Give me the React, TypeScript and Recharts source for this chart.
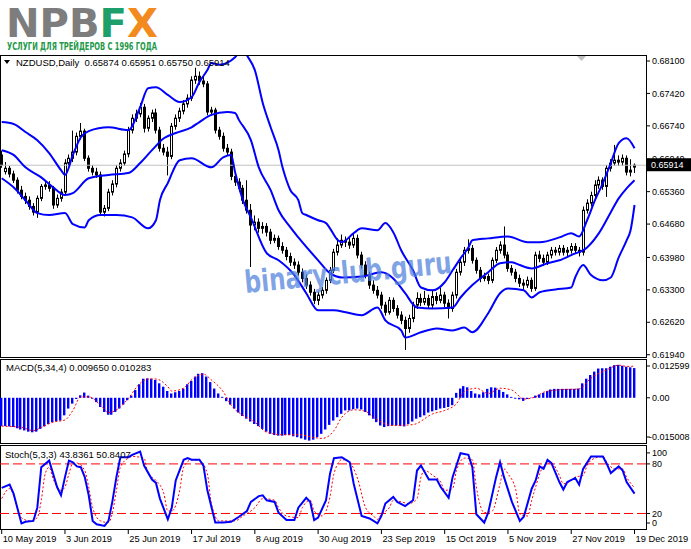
import React from 'react';
import { ComposedChart, Bar, Line, XAxis, YAxis, ReferenceLine } from 'recharts';

const FONT = '"Liberation Sans", Arial, sans-serif';
const X_DOMAIN: [number, number] = [-0.43, 162.9];

// date axis (bar index -> label)
const dateTicks = [0, 16, 32, 48, 64, 80, 96, 112, 128, 144, 160];
const dateLabels = ['10 May 2019', '3 Jun 2019', '25 Jun 2019', '17 Jul 2019', '8 Aug 2019', '30 Aug 2019',
  '23 Sep 2019', '15 Oct 2019', '5 Nov 2019', '27 Nov 2019', '19 Dec 2019'];

const priceTicks = [0.6194, 0.6262, 0.633, 0.6398, 0.6468, 0.6536, 0.6604, 0.6674, 0.6742, 0.681];
const macdTicks = [-0.015008, 0, 0.012599];
const macdTickLabels = ['-0.015008', '0.00', '0.012599'];
const stochTicks = [0, 20, 80, 100];
const lastPrice = 0.65914;

// daily candles: [open, high, low, close]
const candles: number[][] = [
  [0.6613, 0.6622, 0.6586, 0.6592], [0.6578, 0.6598, 0.6572, 0.6585], [0.6585, 0.6590, 0.6566, 0.6573], [0.6573, 0.6580, 0.6554, 0.6560],
  [0.6560, 0.6566, 0.6532, 0.6539], [0.6539, 0.6548, 0.6520, 0.6526], [0.6526, 0.6534, 0.6510, 0.6518], [0.6518, 0.6526, 0.6498, 0.6505],
  [0.6505, 0.6512, 0.6486, 0.6493], [0.6493, 0.6528, 0.6481, 0.6522], [0.6522, 0.6552, 0.6516, 0.6547], [0.6547, 0.6556, 0.6540, 0.6550],
  [0.6550, 0.6558, 0.6536, 0.6543], [0.6543, 0.6548, 0.6500, 0.6508], [0.6508, 0.6530, 0.6502, 0.6522], [0.6522, 0.6542, 0.6515, 0.6535],
  [0.6535, 0.6604, 0.6530, 0.6596], [0.6596, 0.6614, 0.6590, 0.6606], [0.6606, 0.6664, 0.6598, 0.6619], [0.6619, 0.6660, 0.6612, 0.6652],
  [0.6652, 0.6680, 0.6645, 0.6663], [0.6663, 0.6668, 0.6600, 0.6606], [0.6606, 0.6612, 0.6578, 0.6585], [0.6585, 0.6592, 0.6570, 0.6577],
  [0.6577, 0.6586, 0.6565, 0.6571], [0.6571, 0.6578, 0.6486, 0.6493], [0.6493, 0.6508, 0.6484, 0.6501], [0.6501, 0.6542, 0.6495, 0.6535],
  [0.6535, 0.6560, 0.6528, 0.6552], [0.6552, 0.6592, 0.6545, 0.6585], [0.6585, 0.6604, 0.6578, 0.6596], [0.6596, 0.6622, 0.6590, 0.6615],
  [0.6615, 0.6672, 0.6608, 0.6665], [0.6665, 0.6698, 0.6658, 0.6690], [0.6690, 0.6708, 0.6682, 0.6699], [0.6699, 0.6722, 0.6692, 0.6713],
  [0.6713, 0.6720, 0.6660, 0.6669], [0.6669, 0.6696, 0.6662, 0.6690], [0.6690, 0.6708, 0.6682, 0.6701], [0.6701, 0.6710, 0.6658, 0.6665],
  [0.6665, 0.6672, 0.6620, 0.6627], [0.6627, 0.6636, 0.6612, 0.6619], [0.6619, 0.6630, 0.6570, 0.6610], [0.6610, 0.6680, 0.6604, 0.6673],
  [0.6673, 0.6698, 0.6666, 0.6690], [0.6690, 0.6712, 0.6682, 0.6705], [0.6705, 0.6728, 0.6698, 0.6720], [0.6720, 0.6740, 0.6712, 0.6732],
  [0.6732, 0.6778, 0.6726, 0.6770], [0.6770, 0.6796, 0.6762, 0.6778], [0.6778, 0.6788, 0.6760, 0.6768], [0.6768, 0.6778, 0.6755, 0.6762],
  [0.6762, 0.6768, 0.6696, 0.6703], [0.6703, 0.6714, 0.6696, 0.6707], [0.6707, 0.6712, 0.6658, 0.6665], [0.6665, 0.6672, 0.6645, 0.6652],
  [0.6652, 0.6660, 0.6620, 0.6627], [0.6627, 0.6636, 0.6612, 0.6619], [0.6619, 0.6626, 0.6560, 0.6568], [0.6568, 0.6575, 0.6548, 0.6556],
  [0.6556, 0.6564, 0.6536, 0.6543], [0.6543, 0.6550, 0.6510, 0.6518], [0.6518, 0.6560, 0.6490, 0.6497], [0.6497, 0.6510, 0.6378, 0.6466],
  [0.6466, 0.6486, 0.6455, 0.6472], [0.6472, 0.6480, 0.6450, 0.6459], [0.6459, 0.6472, 0.6448, 0.6463], [0.6463, 0.6470, 0.6442, 0.6451],
  [0.6451, 0.6458, 0.6426, 0.6434], [0.6434, 0.6446, 0.6428, 0.6438], [0.6438, 0.6444, 0.6414, 0.6421], [0.6421, 0.6430, 0.6406, 0.6413],
  [0.6413, 0.6420, 0.6392, 0.6400], [0.6400, 0.6408, 0.6380, 0.6388], [0.6388, 0.6396, 0.6374, 0.6382], [0.6382, 0.6390, 0.6360, 0.6367],
  [0.6367, 0.6375, 0.6346, 0.6354], [0.6354, 0.6362, 0.6332, 0.6340], [0.6340, 0.6348, 0.6318, 0.6325], [0.6325, 0.6332, 0.6300, 0.6308],
  [0.6308, 0.6326, 0.6298, 0.6319], [0.6319, 0.6336, 0.6312, 0.6329], [0.6329, 0.6356, 0.6322, 0.6350], [0.6350, 0.6378, 0.6344, 0.6371],
  [0.6371, 0.6416, 0.6365, 0.6409], [0.6409, 0.6438, 0.6402, 0.6424], [0.6424, 0.6446, 0.6418, 0.6434], [0.6434, 0.6442, 0.6420, 0.6430],
  [0.6430, 0.6440, 0.6416, 0.6424], [0.6424, 0.6448, 0.6418, 0.6438], [0.6438, 0.6446, 0.6396, 0.6403], [0.6403, 0.6410, 0.6375, 0.6382],
  [0.6382, 0.6390, 0.6354, 0.6361], [0.6361, 0.6368, 0.6332, 0.6340], [0.6340, 0.6350, 0.6322, 0.6329], [0.6329, 0.6338, 0.6312, 0.6319],
  [0.6319, 0.6326, 0.6290, 0.6298], [0.6298, 0.6305, 0.6276, 0.6283], [0.6283, 0.6315, 0.6278, 0.6308], [0.6308, 0.6314, 0.6284, 0.6291],
  [0.6291, 0.6298, 0.6270, 0.6277], [0.6277, 0.6285, 0.6258, 0.6266], [0.6266, 0.6274, 0.6204, 0.6249], [0.6249, 0.6278, 0.6240, 0.6270],
  [0.6270, 0.6305, 0.6262, 0.6298], [0.6298, 0.6325, 0.6290, 0.6312], [0.6312, 0.6322, 0.6296, 0.6304], [0.6304, 0.6328, 0.6298, 0.6312],
  [0.6312, 0.6320, 0.6290, 0.6298], [0.6298, 0.6330, 0.6292, 0.6316], [0.6316, 0.6325, 0.6300, 0.6308], [0.6308, 0.6334, 0.6302, 0.6319],
  [0.6319, 0.6326, 0.6294, 0.6302], [0.6302, 0.6310, 0.6270, 0.6291], [0.6291, 0.6326, 0.6284, 0.6319], [0.6319, 0.6374, 0.6312, 0.6367],
  [0.6367, 0.6396, 0.6360, 0.6388], [0.6388, 0.6420, 0.6380, 0.6413], [0.6413, 0.6436, 0.6406, 0.6417], [0.6417, 0.6424, 0.6385, 0.6392],
  [0.6392, 0.6398, 0.6364, 0.6371], [0.6371, 0.6378, 0.6346, 0.6354], [0.6354, 0.6366, 0.6348, 0.6358], [0.6358, 0.6364, 0.6342, 0.6350],
  [0.6350, 0.6398, 0.6344, 0.6392], [0.6392, 0.6420, 0.6386, 0.6413], [0.6413, 0.6432, 0.6406, 0.6424], [0.6424, 0.6463, 0.6396, 0.6403],
  [0.6403, 0.6410, 0.6368, 0.6375], [0.6375, 0.6382, 0.6360, 0.6367], [0.6367, 0.6374, 0.6346, 0.6354], [0.6354, 0.6362, 0.6336, 0.6344],
  [0.6344, 0.6352, 0.6330, 0.6340], [0.6340, 0.6358, 0.6334, 0.6350], [0.6350, 0.6356, 0.6326, 0.6333], [0.6333, 0.6410, 0.6328, 0.6403],
  [0.6403, 0.6412, 0.6388, 0.6396], [0.6396, 0.6404, 0.6380, 0.6388], [0.6388, 0.6410, 0.6382, 0.6403], [0.6403, 0.6420, 0.6396, 0.6413],
  [0.6413, 0.6420, 0.6402, 0.6409], [0.6409, 0.6424, 0.6402, 0.6417], [0.6417, 0.6424, 0.6402, 0.6409], [0.6409, 0.6420, 0.6400, 0.6413],
  [0.6413, 0.6428, 0.6406, 0.6421], [0.6421, 0.6428, 0.6406, 0.6413], [0.6413, 0.6420, 0.6400, 0.6409], [0.6409, 0.6505, 0.6402, 0.6497],
  [0.6497, 0.6520, 0.6490, 0.6512], [0.6512, 0.6536, 0.6505, 0.6528], [0.6528, 0.6560, 0.6520, 0.6550], [0.6550, 0.6568, 0.6542, 0.6560],
  [0.6560, 0.6566, 0.6540, 0.6547], [0.6547, 0.6592, 0.6525, 0.6585], [0.6585, 0.6604, 0.6578, 0.6596], [0.6596, 0.6634, 0.6590, 0.6602],
  [0.6602, 0.6612, 0.6590, 0.6598], [0.6598, 0.6614, 0.6590, 0.6606], [0.6606, 0.6612, 0.6570, 0.6577], [0.6577, 0.6604, 0.6568, 0.6581],
  [0.65874, 0.65951, 0.65750, 0.65914],
];

// Bollinger bands, read at [bar index, price]
const bbUpper: number[][] = [
  [0, 0.6682], [3, 0.6678], [6, 0.6661], [9, 0.6644], [12, 0.6617], [15, 0.6581], [16, 0.6571], [18, 0.6613], [20, 0.6650],
  [22, 0.6663], [27, 0.6671], [32, 0.6665], [35, 0.6713], [37, 0.6753], [39, 0.6755], [42, 0.6739], [45, 0.6724], [48, 0.6734],
  [50, 0.6766], [52, 0.6791], [53, 0.6806], [55, 0.6802], [57, 0.6806], [59, 0.6818], [61, 0.6837], [62, 0.6822], [64, 0.6791],
  [66, 0.6722], [68, 0.6671], [70, 0.6623], [71, 0.6587], [72, 0.6560], [73, 0.6539], [75, 0.6518], [76, 0.6491], [77, 0.6487],
  [80, 0.6476], [82, 0.6470], [83, 0.6459], [85, 0.6434], [86, 0.6430], [89, 0.6449], [91, 0.6459], [95, 0.6455], [97, 0.6470],
  [99, 0.6451], [101, 0.6413], [104, 0.6371], [106, 0.6335], [109, 0.6329], [112, 0.6346], [114, 0.6371], [116, 0.6396],
  [118, 0.6419], [119, 0.6434], [123, 0.6438], [128, 0.6442], [133, 0.6430], [136, 0.6430], [141, 0.6440], [144, 0.6449],
  [146, 0.6442], [148, 0.6476], [150, 0.6518], [152, 0.6554], [154, 0.6596], [156, 0.6638], [158, 0.6648], [160, 0.6627],
];
const bbMiddle: number[][] = [
  [0, 0.6623], [3, 0.6613], [6, 0.6587], [10, 0.6566], [13, 0.6545], [16, 0.6529], [18, 0.6533], [22, 0.6564], [27, 0.6571],
  [32, 0.6575], [35, 0.6596], [38, 0.6623], [41, 0.6648], [44, 0.6659], [48, 0.6671], [50, 0.6682], [53, 0.6697], [57, 0.6703],
  [59, 0.6701], [60, 0.6686], [63, 0.6644], [65, 0.6587], [68, 0.6539], [70, 0.6497], [73, 0.6461], [75, 0.6440], [80, 0.6392],
  [83, 0.6365], [86, 0.6356], [91, 0.6358], [96, 0.6367], [99, 0.6354], [102, 0.6323], [105, 0.6293], [109, 0.6291], [114, 0.6293],
  [116, 0.6314], [119, 0.6340], [123, 0.6367], [126, 0.6386], [129, 0.6388], [131, 0.6382], [134, 0.6375], [138, 0.6386],
  [141, 0.6392], [144, 0.6403], [148, 0.6419], [151, 0.6449], [154, 0.6493], [156, 0.6522], [158, 0.6543], [160, 0.6560],
];
const bbLower: number[][] = [
  [0, 0.6564], [3, 0.6545], [6, 0.6518], [9, 0.6491], [12, 0.6487], [16, 0.6491], [18, 0.6468], [21, 0.6461], [22, 0.6476],
  [25, 0.6487], [29, 0.6487], [33, 0.6482], [37, 0.6459], [39, 0.6476], [40, 0.6518], [42, 0.6554], [45, 0.6602], [48, 0.6606],
  [53, 0.6587], [56, 0.6608], [58, 0.6613], [59, 0.6577], [61, 0.6518], [63, 0.6482], [67, 0.6407], [70, 0.6392], [74, 0.6361],
  [77, 0.6323], [80, 0.6287], [84, 0.6287], [87, 0.6283], [91, 0.6277], [95, 0.6293], [97, 0.6266], [101, 0.6245], [102, 0.6230],
  [106, 0.6241], [110, 0.6249], [114, 0.6245], [117, 0.6251], [119, 0.6241], [123, 0.6281], [126, 0.6323], [128, 0.6333],
  [132, 0.6329], [134, 0.6314], [136, 0.6325], [140, 0.6331], [144, 0.6335], [145, 0.6356], [147, 0.6382], [149, 0.6361],
  [152, 0.6350], [154, 0.6356], [156, 0.6398], [158, 0.6434], [159, 0.6455], [160, 0.6508],
];

// MACD(5,34,4) histogram, one value per bar
const macdHist = [
  -0.0092, -0.0092, -0.0093, -0.0095, -0.0099, -0.0103, -0.0106, -0.0110, -0.0112, -0.0110,
  -0.0101, -0.0093, -0.0085, -0.0079, -0.0076, -0.0074, -0.0057, -0.0035, -0.0019, -0.0004,
  0.0008, 0.0017, 0.0007, -0.0003, -0.0014, -0.0030, -0.0046, -0.0055, -0.0055, -0.0046,
  -0.0035, -0.0022, -0.0008, 0.0007, 0.0025, 0.0044, 0.0062, 0.0063, 0.0062, 0.0058,
  0.0047, 0.0036, 0.0022, 0.0014, 0.0018, 0.0022, 0.0030, 0.0044, 0.0055, 0.0069,
  0.0078, 0.0080, 0.0069, 0.0051, 0.0030, 0.0014, 0.0003, -0.0011, -0.0022, -0.0035,
  -0.0048, -0.0059, -0.0068, -0.0077, -0.0085, -0.0092, -0.0101, -0.0110, -0.0117, -0.0121,
  -0.0123, -0.0123, -0.0121, -0.0121, -0.0125, -0.0128, -0.0132, -0.0136, -0.0139, -0.0136,
  -0.0128, -0.0117, -0.0103, -0.0088, -0.0074, -0.0063, -0.0052, -0.0041, -0.0041, -0.0037,
  -0.0035, -0.0038, -0.0046, -0.0057, -0.0068, -0.0079, -0.0090, -0.0095, -0.0092, -0.0090,
  -0.0090, -0.0092, -0.0093, -0.0085, -0.0077, -0.0068, -0.0063, -0.0057, -0.0048, -0.0044,
  -0.0040, -0.0035, -0.0033, -0.0030, -0.0024, 0.0016, 0.0030, 0.0038, 0.0034, 0.0022,
  0.0014, 0.0011, 0.0018, 0.0029, 0.0034, 0.0033, 0.0026, 0.0019, 0.0011, 0.0003,
  -0.0003, -0.0005, -0.0010, -0.0004, 0.0001, 0.0007, 0.0011, 0.0016, 0.0022, 0.0027,
  0.0029, 0.0029, 0.0029, 0.0029, 0.0029, 0.0029, 0.0030, 0.0047, 0.0062, 0.0074,
  0.0085, 0.0095, 0.0096, 0.0096, 0.0101, 0.0106, 0.0107, 0.0104, 0.0101, 0.0099,
  0.00965,
];
const macdSignal: number[][] = [
  [0, -0.0092], [5, -0.0096], [8, -0.0107], [10, -0.0096], [13, -0.0079], [16, -0.0072], [18, -0.0041], [20, 0.0003],
  [22, 0.0003], [25, -0.0024], [27, -0.0048], [30, -0.0030], [32, -0.0002], [35, 0.0047], [37, 0.0061], [39, 0.0061],
  [42, 0.0036], [43, 0.0022], [46, 0.0031], [48, 0.0058], [51, 0.0077], [53, 0.0058], [56, 0.0020], [58, -0.0024],
  [61, -0.0057], [64, -0.0079], [67, -0.0112], [71, -0.0120], [75, -0.0120], [79, -0.0129], [81, -0.0132], [84, -0.0107],
  [86, -0.0063], [89, -0.0039], [92, -0.0044], [94, -0.0063], [97, -0.0085], [99, -0.0090], [104, -0.0087], [109, -0.0052],
  [112, -0.0041], [115, -0.0019], [117, 0.0020], [120, 0.0031], [123, 0.0014], [126, 0.0031], [129, 0.0025], [132, -0.0004],
  [135, 0.0003], [137, 0.0018], [141, 0.0026], [146, 0.0029], [149, 0.0064], [153, 0.0091], [156, 0.0106], [158, 0.0102],
  [160, 0.010283],
];

// Stochastic(5,3,3) main and signal, read at [bar index, value]
const stochMain: number[][] = [
  [0, 51], [2, 55], [3, 44], [5, 8], [6, 10], [8, 11], [9, 27], [10, 76], [12, 84], [13, 68], [14, 52], [15, 42], [16, 64],
  [17, 84], [18, 82], [19, 77], [20, 76], [21, 64], [22, 42], [23, 11], [24, 7], [26, 5], [27, 11], [28, 35], [29, 64], [30, 88],
  [32, 88], [33, 91], [35, 95], [36, 78], [38, 61], [39, 57], [40, 38], [42, 13], [43, 27], [44, 60], [46, 85], [47, 87], [48, 85],
  [50, 85], [51, 78], [52, 48], [54, 9], [56, 9], [58, 10], [60, 16], [62, 23], [63, 34], [65, 41], [66, 42], [67, 36], [69, 34],
  [70, 21], [72, 12], [74, 12], [75, 27], [77, 39], [78, 34], [79, 12], [80, 15], [82, 36], [83, 68], [84, 87], [86, 88], [88, 82],
  [89, 56], [91, 17], [93, 14], [95, 8], [96, 17], [97, 32], [99, 40], [100, 34], [102, 29], [104, 36], [105, 72], [106, 78],
  [108, 61], [110, 61], [111, 52], [113, 39], [114, 64], [116, 93], [118, 91], [119, 76], [120, 19], [122, 9], [123, 21], [125, 64],
  [126, 82], [127, 64], [129, 34], [131, 11], [132, 16], [134, 50], [135, 60], [136, 77], [137, 74], [138, 85], [139, 81], [141, 58],
  [142, 49], [143, 58], [145, 63], [146, 55], [147, 74], [149, 89], [151, 89], [152, 89], [153, 80], [154, 69], [156, 77], [157, 72],
  [158, 58], [160, 44],
];
const stochSignal: number[][] = [
  [0, 38], [2, 50], [5, 15], [7, 11], [9, 15], [10, 36], [11, 68], [12, 76], [13, 62], [15, 48], [16, 52], [17, 68], [18, 81],
  [19, 81], [21, 72], [22, 52], [23, 27], [25, 11], [27, 9], [28, 21], [29, 48], [30, 76], [32, 87], [33, 89], [36, 87], [37, 68],
  [39, 60], [41, 44], [42, 23], [43, 23], [45, 48], [46, 76], [48, 85], [50, 84], [52, 68], [53, 32], [55, 11], [59, 11], [61, 17],
  [64, 27], [66, 38], [69, 36], [70, 27], [72, 17], [75, 15], [76, 27], [78, 36], [79, 23], [81, 17], [83, 40], [84, 68], [86, 85],
  [87, 85], [88, 82], [90, 62], [92, 27], [94, 17], [95, 13], [96, 19], [98, 27], [99, 36], [101, 34], [103, 32], [105, 38],
  [106, 64], [107, 72], [109, 66], [111, 58], [112, 48], [114, 50], [115, 72], [117, 87], [119, 85], [120, 52], [122, 21],
  [124, 23], [126, 56], [127, 74], [128, 68], [130, 48], [131, 19], [133, 17], [134, 36], [135, 52], [136, 68], [138, 81],
  [139, 81], [141, 66], [142, 56], [144, 60], [145, 64], [147, 66], [148, 78], [150, 87], [152, 89], [153, 82], [155, 74],
  [157, 74], [158, 64], [160, 51],
];

const pointAt = (pts: number[][], i: number) => {
  const p = pts.find((q) => q[0] === i);
  return p ? p[1] : null;
};

const mainData = candles.map(([o, h, l, c], i) => ({
  i, o, h, l, c, hl: [l, h],
  up: pointAt(bbUpper, i), mid: pointAt(bbMiddle, i), lo: pointAt(bbLower, i),
}));
const macdData = macdHist.map((v, i) => ({ i, v, sig: pointAt(macdSignal, i) }));
const stochData = candles.map((_, i) => ({ i, k: pointAt(stochMain, i), d: pointAt(stochSignal, i) }));

const Candle = (props: any) => {
  const { x, y, width, height, payload } = props;
  if (!payload || height == null) return null;
  const { o, h, l, c } = payload;
  const cx = Math.round(x + width / 2) + 0.5;
  const at = (v: number) => y + ((h - v) / (h - l)) * height;
  const top = Math.min(at(o), at(c));
  const bot = Math.max(at(o), at(c));
  const bh = Math.max(bot - top, 1);
  return (
    <g>
      <line x1={cx} x2={cx} y1={y} y2={y + height} stroke="#000" strokeWidth={1} />
      {c >= o ? (
        <rect x={cx - 1} y={top} width={2} height={bh} fill="#fff" stroke="#000" strokeWidth={1} />
      ) : (
        <rect x={cx - 1.5} y={top - 0.5} width={3} height={bh + 1} fill="#000" />
      )}
    </g>
  );
};

const MacdBar = (props: any) => {
  const { x, y, width, height } = props;
  if (height == null) return null;
  const top = Math.min(y, y + height);
  const h = Math.abs(height);
  const left = Math.round(x + width / 2 - 1.5);
  return (
    <g>
      <rect x={left} y={top} width={2} height={h} fill="#0000ff" />
      <rect x={left + 2} y={top} width={1} height={h} fill="#9a9aff" />
    </g>
  );
};

const makeYTick = (label: (v: number) => string, shift: (v: number) => number, nudge: (v: number) => number = () => 0) =>
  (props: any) => {
    const { x, y, payload } = props;
    const yy = y + shift(payload.value);
    return (
      <g>
        <line x1={x - 5} x2={x - 2} y1={yy} y2={yy} stroke="#000" />
        <text x={x + nudge(payload.value)} y={yy} dy="0.35em" textAnchor="start" fontSize={9} fontFamily={FONT} fill="#000">
          {label(payload.value)}
        </text>
      </g>
    );
  };

const priceTick = makeYTick((v) => v.toFixed(5), () => 0);
const macdTick = makeYTick((v) => macdTickLabels[macdTicks.indexOf(v)], (v) => (v > 0.01 ? 7 : v < -0.01 ? -7 : 0),
  (v) => (v < 0 ? -3 : 0));
const stochTick = makeYTick((v) => String(v), (v) => (v === 100 ? 5.5 : v === 0 ? -7 : 0));

const DateTick = (props: any) => {
  const { x, y, payload } = props;
  return (
    <text x={x + 1} y={y} dy="0.71em" textAnchor="start" fontSize={9.3} fontFamily={FONT} fill="#000">
      {dateLabels[dateTicks.indexOf(payload.value)]}
    </text>
  );
};

const PriceTag = (props: any) => {
  const vb = props.viewBox || {};
  const x = vb.x + vb.width + 1;
  const y = vb.y;
  return (
    <g>
      <rect x={x} y={y - 7} width={44} height={13} fill="#000" />
      <text x={x + 4} y={y} dy="0.35em" fontSize={9} fontFamily={FONT} fill="#fff">{lastPrice.toFixed(5)}</text>
    </g>
  );
};

const paneBox = (top: number, height: number): React.CSSProperties => ({
  position: 'absolute', left: 0, top, width: 647, height, border: '1px solid #000', boxSizing: 'border-box',
});

const last = candles[candles.length - 1];

export default function App() {
  return (
    <div style={{ position: 'absolute', left: 0, top: 0, width: 691, height: 549, background: '#fff', overflow: 'hidden' }}>
      <div style={paneBox(55, 303)} />
      <div style={paneBox(359, 85)} />
      <div style={paneBox(445, 85)} />

      {/* price pane */}
      <div style={{ position: 'absolute', left: 0, top: 0 }}>
        <ComposedChart width={691} height={362} data={mainData} margin={{ top: 56, right: 0, bottom: 5, left: 0 }}>
          <XAxis dataKey="i" type="number" domain={X_DOMAIN} allowDataOverflow hide />
          <YAxis orientation="right" width={45} domain={[0.61892, 0.68205]} allowDataOverflow ticks={priceTicks}
            interval={0} tick={priceTick} tickLine={false} axisLine={false} tickSize={4} tickMargin={2} />
          <ReferenceLine y={lastPrice} stroke="#c0c0c0" strokeWidth={1} label={(p: any) => <PriceTag {...p} />} />
          <Bar dataKey="hl" barSize={3} shape={(p: any) => <Candle {...p} />} isAnimationActive={false} />
          <Line dataKey="up" type="monotone" stroke="#0000ff" strokeWidth={2} dot={false} connectNulls isAnimationActive={false} />
          <Line dataKey="mid" type="monotone" stroke="#0000ff" strokeWidth={2} dot={false} connectNulls isAnimationActive={false} />
          <Line dataKey="lo" type="monotone" stroke="#0000ff" strokeWidth={2} dot={false} connectNulls isAnimationActive={false} />
        </ComposedChart>
      </div>

      {/* MACD pane */}
      <div style={{ position: 'absolute', left: 0, top: 359 }}>
        <ComposedChart width={691} height={85} data={macdData} margin={{ top: 0, right: 0, bottom: 0, left: 0 }}>
          <XAxis dataKey="i" type="number" domain={X_DOMAIN} allowDataOverflow hide />
          <YAxis orientation="right" width={45} domain={[-0.015008, 0.012599]} allowDataOverflow ticks={macdTicks}
            interval={0} tick={macdTick} tickLine={false} axisLine={false} tickSize={4} tickMargin={2} />
          <Bar dataKey="v" barSize={3} shape={(p: any) => <MacdBar {...p} />} isAnimationActive={false} />
          <Line dataKey="sig" type="monotone" stroke="#ff0000" strokeWidth={1} strokeDasharray="2 2" dot={false}
            connectNulls isAnimationActive={false} />
        </ComposedChart>
      </div>

      {/* Stochastic pane */}
      <div style={{ position: 'absolute', left: 0, top: 445 }}>
        <ComposedChart width={691} height={104} data={stochData} margin={{ top: 0, right: 0, bottom: 0, left: 0 }}>
          <XAxis dataKey="i" type="number" domain={X_DOMAIN} allowDataOverflow ticks={dateTicks} interval={0}
            height={19} tick={DateTick} axisLine={false} tickLine={{ stroke: '#000' }} tickSize={4} tickMargin={1} />
          <YAxis orientation="right" width={45} domain={[0, 102.9]} allowDataOverflow ticks={stochTicks}
            interval={0} tick={stochTick} tickLine={false} axisLine={false} tickSize={4} tickMargin={2} />
          <ReferenceLine y={80} stroke="#ff0000" strokeDasharray="9 4" />
          <ReferenceLine y={20} stroke="#ff0000" strokeDasharray="9 4" />
          <Line dataKey="d" type="monotone" stroke="#ff0000" strokeWidth={1} strokeDasharray="2 2" dot={false}
            connectNulls isAnimationActive={false} />
          <Line dataKey="k" type="linear" stroke="#0000ff" strokeWidth={2} dot={false} connectNulls isAnimationActive={false} />
        </ComposedChart>
      </div>

      {/* logo, labels, watermark */}
      <svg width={691} height={549} style={{ position: 'absolute', left: 0, top: 0, pointerEvents: 'none' }}>
        <text x={6} y={37} fontSize={39} fontWeight="bold" fontFamily='"DejaVu Sans", sans-serif'
          textLength={152} lengthAdjust="spacingAndGlyphs">
          <tspan fill="#7d7d7d">NPB</tspan>
          <tspan fill="#1c9f6a">F</tspan>
          <tspan fill="#f28a1e">X</tspan>
        </text>
        <text x={7} y={50} fontSize={10} fontWeight="bold" fontFamily='"DejaVu Sans Condensed", "DejaVu Sans", sans-serif'
          fill="#23994a" textLength={150} lengthAdjust="spacingAndGlyphs">УСЛУГИ ДЛЯ ТРЕЙДЕРОВ С 1996 ГОДА</text>

        <polygon points="4,60 10,60 7,64" fill="#000" />
        <text x={16} y={66} fontSize={9.5} fontFamily={FONT} fill="#000" xmlSpace="preserve">
          {`NZDUSD,Daily  ${last[0].toFixed(5)} ${last[1].toFixed(5)} ${last[2].toFixed(5)} ${last[3].toFixed(5)}`}
        </text>
        <text x={6} y={371} fontSize={9.5} fontFamily={FONT} fill="#000">MACD(5,34,4) 0.009650 0.010283</text>
        <text x={5} y={458} fontSize={9.5} fontFamily={FONT} fill="#000">Stoch(5,3,3) 43.8361 50.8407</text>

        <polygon points="577,56 586,56 581.5,61" fill="#c0c0c0" />

        <text x={349} y={283} textAnchor="middle" fontSize={31} fontWeight="bold" fontFamily='"DejaVu Sans", sans-serif'
          fill="#4d7fdc" fillOpacity={0.72} transform="rotate(-5.5 349 283)" textLength={208}
          lengthAdjust="spacingAndGlyphs">binaryclub.guru</text>
      </svg>
    </div>
  );
}
